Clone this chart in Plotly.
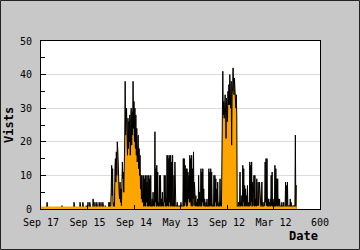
import plotly.graph_objects as go

tick_vals = [0, 100, 200, 300, 400, 500, 600]
tick_text = ["Sep 17", "Sep 15", "Sep 14", "May 13", "Sep 12", "Mar 12", "600"]
y_title = "Vists"
x_title = "Date"

visits = [
    0,0,0,0,0,0,0,0,0,0,0,0,0,2,0,0,
    0,0,0,0,0,0,0,0,0,0,0,0,0,0,0,0,
    0,0,0,0,0,0,0,0,0,0,0,0,0,1,0,0,
    0,0,0,0,0,0,0,0,0,0,0,0,0,0,0,0,
    0,0,0,0,0,0,0,2,0,0,0,0,0,0,0,0,
    0,0,0,0,2,0,0,0,0,0,2,0,0,0,0,0,
    0,1,0,0,0,2,0,0,0,2,0,0,0,0,0,0,
    3,0,0,0,2,0,0,0,2,0,0,0,0,2,0,0,
    0,2,0,0,0,2,0,0,0,0,1,0,0,0,0,0,0,0,2,0,2,0,
    1,6,13,4,12,2,0,
    2,0,
    12,15,8,17,10,20,18,14,
    6,5,3,8,2,6,1,
    13,14,9,11,5,10,
    20,38,22,25,30,26,16,
    27,18,26,20,28,16,27,30,19,29,22,
    38,24,
    32,20,30,18,28,16,24,14,20,
    22,12,18,10,16,6,
    10,3,10,2,8,
    10,0,9,1,10,0,10,2,8,0,10,0,10,1,9,0,
    10,0,1,
    3,0,5,1,2,0,
    23,2,
    12,0,13,1,11,0,
    2,0,
    10,1,10,0,
    3,0,5,1,2,0,
    10,2,10,0,
    3,0,
    16,1,16,0,15,2,16,0,16,1,14,0,16,
    3,0,
    10,0,14,2,
    0,1,0,2,0,1,0,0,1,0,0,2,0,1,0,0,
    15,0,15,1,13,2,12,0,
    12,1,11,3,10,2,
    16,2,15,1,16,0,12,3,17,1,8,
    5,0,4,1,2,0,
    3,0,10,1,5,0,2,
    12,0,11,2,12,1,6,0,3,1,0,
    2,0,3,0,1,0,
    12,0,11,1,12,0,11,2,
    0,1,0,
    10,0,10,2,9,0,6,1,8,0,1,
    2,0,9,1,2,
    0,27,30,
    41,28,32,27,33,
    34,28,21,33,30,26,35,31,
    37,31,40,35,30,38,19,34,36,
    42,38,34,
    39,33,36,30,34,
    28,0,1,
    0,2,0,1,11,0,2,1,4,0,
    13,2,12,0,
    7,1,6,0,4,1,7,0,2,1,0,
    14,1,13,2,14,0,8,1,7,
    10,0,10,1,3,0,9,1,2,
    8,1,4,8,3,4,0,1,
    8,0,2,1,0,2,1,
    14,2,15,1,15,0,3,
    3,0,2,1,3,0,
    10,1,11,0,2,1,
    3,0,
    13,0,12,1,9,0,
    9,1,3,0,3,1,
    0,1,0,2,0,1,0,2,0,0,1,
    8,0,7,1,8,0,1,0,
    1,0,3,0,2,0,1,0,0,1,0,
    1,0,22,0,7,7,
]
x = list(range(len(visits)))

ORANGE = "#ffa500"
FONT = "DejaVu Sans Mono"

fig = go.Figure()
fig.add_trace(go.Scatter(
    x=x, y=visits, mode="lines", fill="tozeroy", fillcolor=ORANGE,
    line=dict(color="black", width=1), showlegend=False,
))
fig.add_trace(go.Scatter(
    x=[x[0], x[-1]], y=[0, 0], mode="lines",
    line=dict(color=ORANGE, width=5), showlegend=False,
))

W, H = 360, 250
ml, mr, mt, mb = 41, 40, 41, 41
pw, ph = W - ml - mr, H - mt - mb

fig.update_layout(
    width=W, height=H,
    margin=dict(l=ml, r=mr, t=mt, b=mb, pad=0),
    paper_bgcolor="#c8c8c8", plot_bgcolor="white",
    font=dict(family=FONT, size=10, color="black"),
    xaxis=dict(
        range=[0, 600], tickvals=tick_vals, ticktext=tick_text,
        ticks="inside", ticklen=4, tickcolor="black",
        showgrid=False, zeroline=False,
        showline=True, linecolor="black", linewidth=1, mirror=True,
        ticklabelstandoff=4,
    ),
    yaxis=dict(
        range=[0, 50], dtick=10,
        ticks="inside", ticklen=5, tickcolor="black",
        minor=dict(ticks="inside", ticklen=4, dtick=5, tickcolor="black", showgrid=False),
        showgrid=True, gridcolor="#dcdcdc", gridwidth=1, zeroline=False,
        showline=True, linecolor="black", linewidth=1, mirror=True,
        ticklabelstandoff=6,
    ),
    annotations=[
        dict(text="<b>" + y_title + "</b>", xref="paper", yref="paper",
             x=-(ml - 9) / pw, y=0.5, textangle=-90, showarrow=False,
             xanchor="center", yanchor="middle", font=dict(family=FONT, size=12)),
        dict(text="<b>" + x_title + "</b>", xref="paper", yref="paper",
             x=1, y=-(236 - (H - mb)) / ph, showarrow=False,
             xanchor="right", yanchor="middle", font=dict(family=FONT, size=12)),
    ],
    shapes=[
        dict(type="rect", xref="paper", yref="paper",
             x0=-(ml - 0.5) / pw, x1=1 + (mr - 0.5) / pw,
             y0=-(mb - 0.5) / ph, y1=1 + (mt - 0.5) / ph,
             line=dict(color="#222222", width=1), layer="above"),
    ],
)

fig.write_html("out.html")
